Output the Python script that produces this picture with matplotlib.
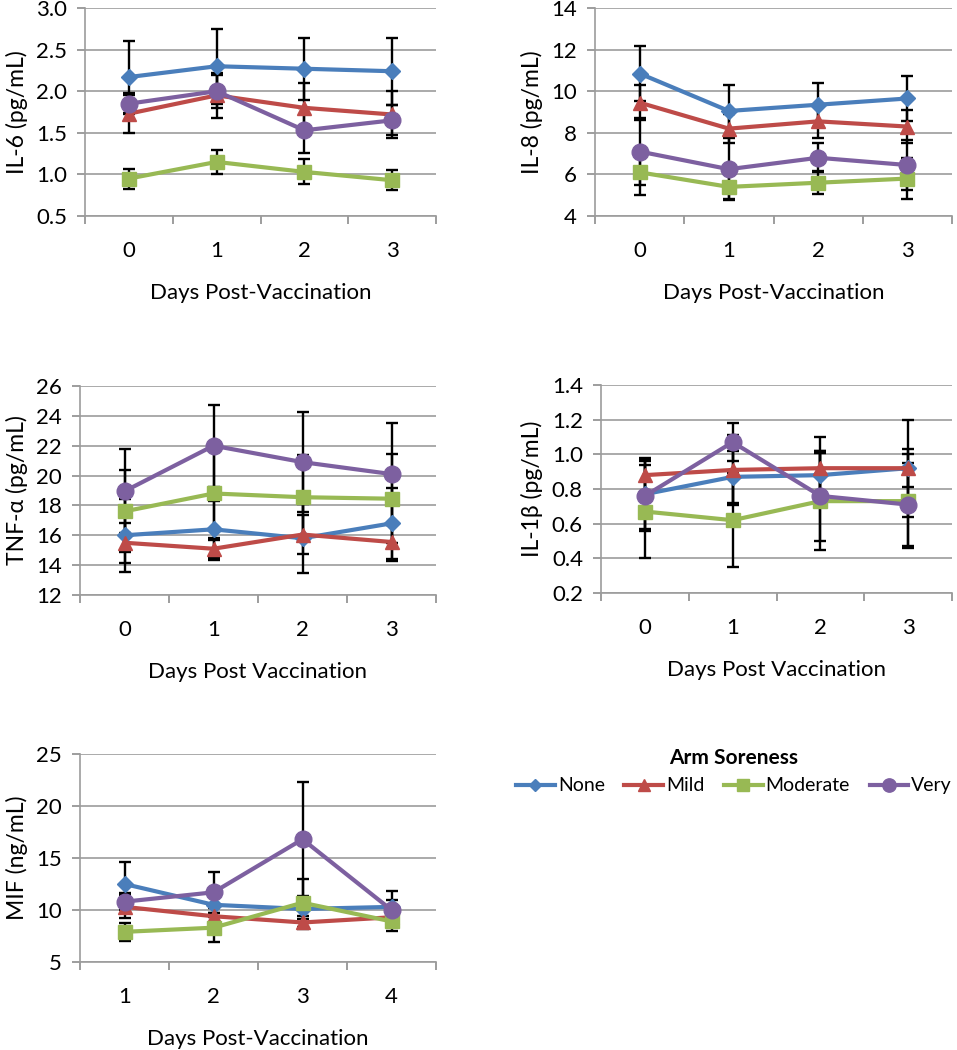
import matplotlib.pyplot as plt
from matplotlib.lines import Line2D
import numpy as np

plt.rcParams["font.family"] = ["Lato", "DejaVu Sans"]

GROUPS = ["None", "Mild", "Moderate", "Very"]
COLORS = ["#4A7EBB", "#BE4B48", "#98B954", "#7D60A0"]
MARKERS = ["D", "^", "s", "o"]
MSIZES = [8, 10, 10, 12]

DAYS_A = ["0", "1", "2", "3"]
DAYS_B = ["1", "2", "3", "4"]

# IL-6 (pg/mL)
il6_mean = {
    "None": [2.17, 2.30, 2.27, 2.24],
    "Mild": [1.73, 1.95, 1.80, 1.72],
    "Moderate": [0.95, 1.15, 1.03, 0.93],
    "Very": [1.85, 2.00, 1.53, 1.65],
}
il6_err = {
    "None": [0.43, 0.45, 0.37, 0.40],
    "Mild": [0.23, 0.27, 0.30, 0.28],
    "Moderate": [0.12, 0.14, 0.15, 0.12],
    "Very": [0.13, 0.20, 0.27, 0.18],
}

# IL-8 (pg/mL)
il8_mean = {
    "None": [10.85, 9.05, 9.35, 9.65],
    "Mild": [9.45, 8.20, 8.55, 8.30],
    "Moderate": [6.10, 5.40, 5.60, 5.80],
    "Very": [7.10, 6.25, 6.80, 6.45],
}
il8_err = {
    "None": [1.30, 1.25, 1.05, 1.10],
    "Mild": [0.85, 0.70, 0.80, 0.80],
    "Moderate": [1.10, 0.60, 0.55, 1.00],
    "Very": [1.60, 1.50, 0.70, 1.20],
}

# TNF-alpha (pg/mL)
tnf_mean = {
    "None": [16.0, 16.4, 15.8, 16.8],
    "Mild": [15.5, 15.1, 16.05, 15.55],
    "Moderate": [17.6, 18.8, 18.55, 18.45],
    "Very": [18.95, 22.0, 20.9, 20.1],
}
tnf_err = {
    "None": [2.45, 1.90, 2.30, 2.40],
    "Mild": [1.35, 0.75, 1.30, 1.25],
    "Moderate": [2.75, 3.10, 2.80, 3.00],
    "Very": [2.80, 2.75, 3.35, 3.40],
}

# IL-1beta (pg/mL)
il1b_mean = {
    "None": [0.77, 0.87, 0.88, 0.92],
    "Mild": [0.88, 0.91, 0.92, 0.92],
    "Moderate": [0.67, 0.62, 0.73, 0.73],
    "Very": [0.76, 1.07, 0.76, 0.71],
}
il1b_err = {
    "None": [0.20, 0.15, 0.14, 0.11],
    "Mild": [0.10, 0.20, 0.18, 0.28],
    "Moderate": [0.27, 0.27, 0.28, 0.27],
    "Very": [0.20, 0.11, 0.26, 0.24],
}

# MIF (ng/mL)
mif_mean = {
    "None": [12.5, 10.5, 10.1, 10.3],
    "Mild": [10.3, 9.4, 8.8, 9.3],
    "Moderate": [7.9, 8.3, 10.7, 8.9],
    "Very": [10.8, 11.7, 16.8, 10.0],
}
mif_err = {
    "None": [2.1, 1.2, 1.0, 1.5],
    "Mild": [1.1, 0.8, 0.6, 0.7],
    "Moderate": [0.85, 1.4, 2.3, 0.9],
    "Very": [0.8, 2.0, 5.5, 1.0],
}

W, H = 957, 1050
fig = plt.figure(figsize=(W / 100, H / 100), dpi=100)


def px_axes(x0, x1, ytop, ybot):
    return fig.add_axes([x0 / W, 1 - ybot / H, (x1 - x0) / W, (ybot - ytop) / H])


def panel(ax, means, errs, days, ylim, ystep, ylabel, xlabel, yfmt):
    x = np.arange(len(days)) + 0.5
    for g in GROUPS:
        ax.errorbar(x, means[g], yerr=errs[g], fmt="none", ecolor="black",
                    elinewidth=1.7, capsize=4.5, capthick=1.7, zorder=2)
    for g, c, m, ms in zip(GROUPS, COLORS, MARKERS, MSIZES):
        ax.plot(x, means[g], color=c, lw=3.0, marker=m, ms=ms,
                markeredgecolor=c, zorder=3)
    ax.set_xlim(0, len(days))
    ax.set_ylim(*ylim)
    ax.set_yticks(np.arange(ylim[0], ylim[1] + ystep / 2, ystep))
    ax.set_yticklabels([yfmt.format(v) for v in ax.get_yticks()])
    ax.set_xticks(np.arange(len(days) + 1))
    ax.set_xticklabels([])
    ax.set_xticks(x, minor=True)
    ax.set_xticklabels(days, minor=True)
    ax.tick_params(axis="x", which="major", length=6, color="#8c8c8c", width=1.2)
    ax.tick_params(axis="x", which="minor", length=0, pad=18, labelsize=16)
    ax.tick_params(axis="y", length=6, color="#8c8c8c", width=1.2, pad=7,
                   labelsize=16)
    ax.grid(True, axis="y", color="#9c9c9c", lw=1.2)
    ax.set_axisbelow(True)
    for s in ["top", "right"]:
        ax.spines[s].set_visible(False)
    for s in ["left", "bottom"]:
        ax.spines[s].set_color("#9c9c9c")
        ax.spines[s].set_linewidth(1.2)
    ax.set_ylabel(ylabel, fontsize=16.5, labelpad=6)
    ax.set_xlabel(xlabel, fontsize=16, labelpad=16)


ax1 = px_axes(85, 436, 8, 216)
panel(ax1, il6_mean, il6_err, DAYS_A, (0.5, 3.0), 0.5, "IL-6 (pg/mL)",
      "Days Post-Vaccination", "{:.1f}")
ax2 = px_axes(595, 952, 8, 216)
panel(ax2, il8_mean, il8_err, DAYS_A, (4, 14), 2, "IL-8 (pg/mL)",
      "Days Post-Vaccination", "{:.0f}")
ax3 = px_axes(80, 436, 386, 595)
panel(ax3, tnf_mean, tnf_err, DAYS_A, (12, 26), 2, "TNF-α (pg/mL)",
      "Days Post Vaccination", "{:.0f}")
ax4 = px_axes(601, 952, 385, 593)
panel(ax4, il1b_mean, il1b_err, DAYS_A, (0.2, 1.4), 0.2, "IL-1β (pg/mL)",
      "Days Post Vaccination", "{:.1f}")
ax5 = px_axes(80, 436, 754, 962)
panel(ax5, mif_mean, mif_err, DAYS_B, (5, 25), 5, "MIF (ng/mL)",
      "Days Post-Vaccination", "{:.0f}")

handles = [Line2D([], [], color=c, lw=3.0, marker=m, ms=ms * 0.8)
           for c, m, ms in zip(COLORS, MARKERS, MSIZES)]
leg = fig.legend(handles, GROUPS, loc="center", bbox_to_anchor=(734 / W, 1 - 771 / H),
                 ncol=4, frameon=False, fontsize=14, title="Arm Soreness",
                 title_fontproperties={"weight": "bold", "size": 15},
                 handlelength=2.0, handletextpad=0.15, columnspacing=1.0,
                 borderaxespad=0, borderpad=0)

fig.savefig("out.png", dpi=100)
